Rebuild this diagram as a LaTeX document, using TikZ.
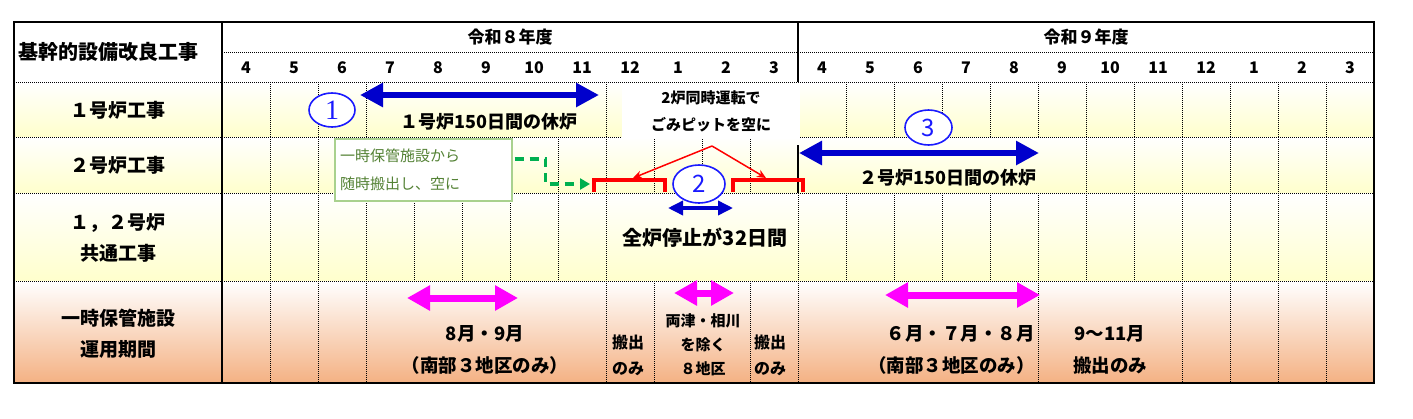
\documentclass[tikz,border=0pt]{standalone}
\usepackage{fontspec}
\setmainfont{Noto Sans CJK JP}
\newfontfamily\circfont{Liberation Serif}
\usetikzlibrary{positioning,arrows.meta,shapes.geometric}
\definecolor{planblue}{HTML}{0000CC}
\definecolor{circblue}{HTML}{1A1AFF}
\definecolor{planpink}{HTML}{FF00FF}
\definecolor{planred}{HTML}{FF0000}
\definecolor{plangreen}{HTML}{00B050}
\definecolor{notegreen}{HTML}{548235}
\definecolor{noteframe}{HTML}{A9D18E}
\definecolor{rowyellow}{HTML}{FFFFCC}
\definecolor{rowpeach}{HTML}{F4B183}
\tikzset{
    every node/.style={inner sep=0pt},
    gridline/.style={draw=black,line width=0.9pt,dash pattern=on 1pt off 1pt},
    frame/.style={draw=black,line width=2.3pt},
    divider/.style={draw=black,line width=1.8pt},
    yearlbl/.style={font=\bfseries\fontsize{17}{20}\selectfont},
    monthlbl/.style={font=\bfseries\fontsize{16}{19}\selectfont},
    rowlbl/.style={font=\bfseries\fontsize{19}{31}\selectfont,align=center},
    spanlbl/.style={font=\bfseries\fontsize{18}{22}\selectfont},
    periodlbl/.style={font=\bfseries\fontsize{18.5}{32}\selectfont,align=center},
    carrylbl/.style={font=\bfseries\fontsize{16}{26}\selectfont,align=center},
    arealbl/.style={font=\bfseries\fontsize{15}{24}\selectfont,align=center},
    pitnote/.style={fill=white,minimum width=178pt,minimum height=55pt,align=center,font=\bfseries\fontsize{15}{27}\selectfont},
    storenote/.style={draw=noteframe,line width=1.2pt,fill=white,text=notegreen,text width=167pt,inner xsep=5pt,minimum height=62pt,align=left,font=\fontsize{15}{28}\selectfont},
    stepnum/.style={ellipse,draw=circblue,line width=1.6pt,fill=white,text=circblue,font=\fontsize{24}{26}\selectfont},
    haltarrow/.style={draw=planblue,line width=6.5pt,{Triangle[length=23pt,width=23pt]}-{Triangle[length=23pt,width=23pt]}},
    shortarrow/.style={draw=planblue,line width=3.5pt,{Triangle[length=15pt,width=14pt]}-{Triangle[length=15pt,width=14pt]}},
    openarrow/.style={draw=planpink,line width=7pt,{Triangle[length=23pt,width=24pt]}-{Triangle[length=23pt,width=24pt]}},
    pitpointer/.style={draw=planred,line width=1.5pt,-{Stealth[length=9pt,width=8pt]}},
    pitspan/.style={draw=planred,line width=4.5pt},
    carryout/.style={draw=plangreen,line width=3.5pt,dash pattern=on 9pt off 6pt,-{Triangle[length=10pt,width=11pt]}}
}
\begin{document}
\begin{tikzpicture}[x=1pt,y=-1pt]
\useasboundingbox (0,0) rectangle (1413,418);
\fill[white] (0,0) rectangle (1413,418);

\shade[top color=white,bottom color=rowyellow] (14,82) rectangle (1374,137);
\shade[top color=white,bottom color=rowyellow] (14,137) rectangle (1374,193);
\shade[top color=white,bottom color=rowyellow] (14,193) rectangle (1374,281);
\shade[top color=white,bottom color=rowpeach] (14,281) rectangle (1374,383);

\draw[gridline] (222,52) -- (1374,52);
\foreach \y in {82,137,193,281}
    \draw[gridline] (14,\y) -- (1374,\y);
\foreach \x in {270,318,366,606,846,894,...,1326}
    \draw[gridline] (\x,82) -- (\x,137);
\foreach \x in {270,318,558,606,654,702,750,1086,1134,...,1326}
    \draw[gridline] (\x,137) -- (\x,193);
\foreach \x in {270,318,...,606,798,846,...,1326}
    \draw[gridline] (\x,193) -- (\x,281);
\foreach \x in {270,318,366,606,654,750,798,1038,1182,1230,1278,1326}
    \draw[gridline] (\x,281) -- (\x,383);

\draw[frame] (14,22) rectangle (1374,383);
\draw[divider] (222,22) -- (222,383);
\draw[divider] (798,22) -- (798,82);
\draw[divider] (798,145) -- (798,193);

\node[rowlbl,font=\bfseries\fontsize{20}{24}\selectfont,anchor=west] (headlbl) at (18,52) {基幹的設備改良工事};
\node[yearlbl] (fy8) at (510,37) {令和８年度};
\node[yearlbl] (fy9) at (1086,37) {令和９年度};
\foreach \m [count=\i from 0] in {4,5,6,7,8,9,10,11,12,1,2,3,4,5,6,7,8,9,10,11,12,1,2,3}
    \node[monthlbl] (mon\i) at (246+48*\i,68) {\m};

\node[rowlbl] (unit1) at (118,110) {１号炉工事};
\node[rowlbl] (unit2) at (118,165) {２号炉工事};
\node[rowlbl] (common) at (118,237.5) {１，２号炉\\共通工事};
\node[rowlbl] (storage) at (118,334) {一時保管施設\\運用期間};

\coordinate (halt1a) at (360,95);
\coordinate (halt1b) at (599,95);
\draw[haltarrow] (halt1a) -- (halt1b);
\node[spanlbl] (halt1lbl) at (489,122) {１号炉150日間の休炉};
\node[stepnum,minimum width=46pt,minimum height=34pt] (step1) at (332,110) {\circfont\fontsize{28}{30}\selectfont 1};

\node[pitnote] (pitbox) at (711,111.5) {2炉同時運転で\\ごみピットを空に};
\node[stepnum,minimum width=47pt,minimum height=35pt] (step3) at (928.5,127.5) {3};

\coordinate (halt2a) at (799,153);
\coordinate (halt2b) at (1039,153);
\draw[haltarrow] (halt2a) -- (halt2b);
\node[spanlbl] (halt2lbl) at (948,178) {２号炉150日間の休炉};

\node[storenote] (storebox) at (423.5,170) {一時保管施設から\\随時搬出し、空に};
\coordinate (emptyL) at (590,184);
\draw[carryout] ([xshift=2pt,yshift=11pt]storebox.east) -- ++(31,0) -- ++(0,25) -- (emptyL);

\draw[pitspan] (594,192) -- (594,180) -- (665,180) -- (665,192);
\draw[pitspan] (733,192) -- (733,180) -- (803,180) -- (803,192);
\coordinate (pitapex) at (712,146);
\coordinate (pitL) at (633,178);
\coordinate (pitR) at (766,178);
\draw[pitpointer] (pitapex) -- (pitL);
\draw[pitpointer] (pitapex) -- (pitR);
\node[stepnum,minimum width=52pt,minimum height=38pt] (step2) at (699,184) {2};

\coordinate (allhaltA) at (668,208);
\coordinate (allhaltB) at (733,208);
\draw[shortarrow] (allhaltA) -- (allhaltB);
\node[font=\bfseries\fontsize{20}{24}\selectfont] (allhaltlbl) at (705,238) {全炉停止が32日間};

\coordinate (open1a) at (407,298);
\coordinate (open1b) at (518,298);
\draw[openarrow] (open1a) -- (open1b);
\node[periodlbl] (open1lbl) at (485,350) {8月・9月\\（南部３地区のみ）};
\node[carrylbl] (carry1) at (628,355) {搬出\\のみ};
\coordinate (open2a) at (674,293);
\coordinate (open2b) at (734,293);
\draw[openarrow] (open2a) -- (open2b);
\node[arealbl] (open2lbl) at (703,345) {両津・相川\\を除く\\８地区};
\node[carrylbl] (carry2) at (770,355) {搬出\\のみ};
\coordinate (open3a) at (885,295);
\coordinate (open3b) at (1040,295);
\draw[openarrow] (open3a) -- (open3b);
\node[periodlbl,align=right,anchor=east] (open3lbl) at (1035,350) {６月・７月・８月\\（南部３地区のみ）};
\node[periodlbl] (carry3) at (1110,350) {9～11月\\搬出のみ};
\end{tikzpicture}
\end{document}
